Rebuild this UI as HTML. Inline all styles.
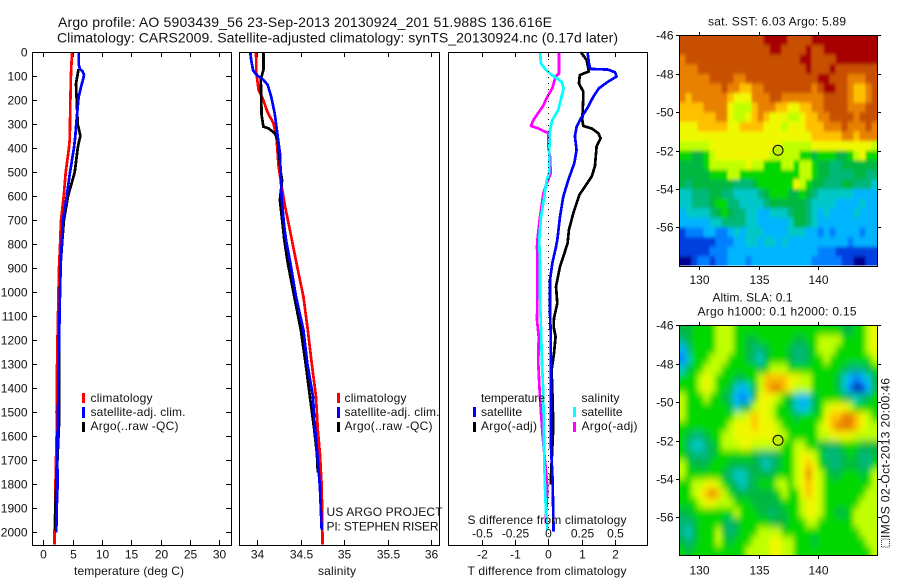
<!DOCTYPE html>
<html lang="en">
<head>
<meta charset="utf-8">
<title>Argo profile</title>
<style>
html,body{margin:0;padding:0;background:#fff;}
svg{display:block;font-family:"Liberation Sans",sans-serif;font-size:12px;fill:#000;}
text{fill:#111;}
</style>
</head>
<body>
<svg id="chart" xmlns="http://www.w3.org/2000/svg" width="900" height="580" viewBox="0 0 900 580">
  <defs>
    <clipPath id="sst-clip"><rect x="679.5" y="35.5" width="198" height="230"/></clipPath>
    <clipPath id="sla-clip"><rect x="679.5" y="325.5" width="198" height="230"/></clipPath>
    <filter id="sst-blur" filterUnits="userSpaceOnUse" x="650" y="10" width="250" height="280"><feGaussianBlur stdDeviation="1.4 1.8"/></filter>
    <filter id="sla-blur" filterUnits="userSpaceOnUse" x="650" y="300" width="250" height="280"><feGaussianBlur stdDeviation="2.6 3.6"/></filter>
  </defs>
  <rect x="0" y="0" width="900" height="580" fill="#fff"/>
  <text x="58" y="27" font-size="14" textLength="494">Argo profile: AO 5903439_56 23-Sep-2013 20130924_201 51.988S 136.616E</text>
  <text x="57" y="42.5" font-size="14" textLength="561">Climatology: CARS2009. Satellite-adjusted climatology: synTS_20130924.nc (0.17d later)</text>

  <g clip-path="url(#sst-clip)">
    <g id="sst-cells" filter="url(#sst-blur)"></g>
  </g>
  <g clip-path="url(#sla-clip)">
    <g id="sla-cells" filter="url(#sla-blur)"></g>
  </g>

  <g id="lines"></g>
  <g id="axes"></g>

  <line x1="548.5" y1="53" x2="548.5" y2="545" stroke="#000" stroke-width="1" stroke-dasharray="1 5"/>

  <g>
    <rect x="82" y="393" width="3" height="10" fill="#f00"/>
    <rect x="82" y="407" width="3" height="11" fill="#00f"/>
    <rect x="82" y="422" width="3" height="10" fill="#000"/>
    <text x="90.5" y="402" textLength="62">climatology</text>
    <text x="90.5" y="416" textLength="95">satellite-adj. clim.</text>
    <text x="90.5" y="430" textLength="88">Argo(..raw -QC)</text>
  </g>
  <g>
    <rect x="337" y="393" width="3" height="10" fill="#f00"/>
    <rect x="337" y="407" width="3" height="11" fill="#00f"/>
    <rect x="337" y="422" width="3" height="10" fill="#000"/>
    <text x="344.5" y="402" textLength="62">climatology</text>
    <text x="344.5" y="416" textLength="95">satellite-adj. clim.</text>
    <text x="344.5" y="430" textLength="88">Argo(..raw -QC)</text>
  </g>
  <text x="326.5" y="516" textLength="116">US ARGO PROJECT</text>
  <text x="326.5" y="530.5" textLength="112">PI: STEPHEN RISER</text>

  <g>
    <text x="481" y="402" textLength="64">temperature</text>
    <text x="581.5" y="402" textLength="38">salinity</text>
    <rect x="473" y="407" width="3" height="10" fill="#00f"/>
    <rect x="473" y="422" width="3" height="10" fill="#000"/>
    <rect x="573" y="407" width="3" height="10" fill="#0ff"/>
    <rect x="573" y="422" width="3" height="10" fill="#f0f"/>
    <text x="481" y="416" textLength="41">satellite</text>
    <text x="481" y="430" textLength="56">Argo(-adj)</text>
    <text x="581.5" y="416" textLength="41">satellite</text>
    <text x="581.5" y="430" textLength="56">Argo(-adj)</text>
  </g>

  <text x="467.5" y="524" textLength="159">S difference from climatology</text>
  <text x="74" y="575" textLength="110">temperature (deg C)</text>
  <text x="318" y="575" textLength="38">salinity</text>
  <text x="467.5" y="575" textLength="159">T difference from climatology</text>

  <text x="708" y="25.5" textLength="138">sat. SST: 6.03 Argo: 5.89</text>
  <text x="712.5" y="301.5" textLength="80">Altim. SLA: 0.1</text>
  <text x="697.5" y="315.5" textLength="159">Argo h1000: 0.1 h2000: 0.15</text>

  <rect x="881.5" y="539" width="8" height="8" fill="none" stroke="#333" stroke-width="1" stroke-dasharray="1 1"/>
  <text transform="translate(889.5 538) rotate(-90)" textLength="160">IMOS 02-Oct-2013 20:00:46</text>
</svg>

<script>
// ---------- profile axes data ----------
const tempTicks = [0,5,10,15,20,25,30];
const salTicks = [34,34.5,35,35.5,36];
const salTickLabels = ['34','34.5','35','35.5','36'];
const depthTicks = [0,100,200,300,400,500,600,700,800,900,1000,1100,1200,1300,1400,1500,1600,1700,1800,1900,2000];
const tDiffTicks = [-2,-1,0,1,2];
const sDiffTicks = [-0.5,-0.25,0,0.25,0.5];
const sDiffTickLabels = ['-0.5','-0.25','0','0.25','0.5'];
const lonTicks = [130,135,140];
const latTicks = [-46,-48,-50,-52,-54,-56];

// temperature profiles (deg C)
const climTempDepth = [0,100,200,300,360,400,500,600,700,800,900,1000,1100,1200,1300,1400,1500,1600,1700,1800,1900,2000,2050];
const climTempValue = [4.88,4.7,4.6,4.54,4.5,4.35,3.8,3.46,3.0,2.85,2.66,2.58,2.5,2.41,2.33,2.27,2.25,2.25,2.15,2.07,2.03,1.9,1.9];
const satTempDepth = [0,50,70,80,95,110,140,180,200,300,350,400,500,600,700,850,1000,1200,1400,1500,1600,1700,1800,1900,2000];
const satTempValue = [6.0,6.0,6.25,6.7,6.93,6.8,6.47,6.07,5.96,5.6,5.45,5.2,4.54,3.97,3.35,3.0,2.83,2.68,2.55,2.5,2.4,2.38,2.42,2.27,2.2];
const argoTempDepth = [70,100,130,200,300,340,350,380,400,500,600,700,800,900,1000,1200,1400,1500,1550,1900,1990];
const argoTempValue = [6.0,5.79,5.56,5.68,5.85,6.25,6.3,6.0,5.85,5.34,4.2,3.5,3.17,2.9,2.83,2.66,2.66,2.7,2.66,2.03,2.03];

// salinity profiles
const climSalDepth = [0,87,157,199,247,296,351,476,560,643,740,879,1018,1157,1296,1435,1574,1671,1810,2050];
const climSalValue = [33.985,33.99,34.015,34.07,34.115,34.185,34.22,34.245,34.28,34.32,34.375,34.45,34.53,34.58,34.625,34.675,34.695,34.72,34.74,34.75];
const satSalDepth = [0,32,74,94,115,136,185,254,337,420,615,726,782,879,1018,1157,1296,1435,1532,1671,1810,1990];
const satSalValue = [33.92,33.93,33.95,33.99,34.07,34.12,34.16,34.2,34.23,34.26,34.28,34.31,34.33,34.38,34.445,34.53,34.575,34.64,34.655,34.69,34.72,34.74];
const argoSalDepth = [0,74,87,115,261,310,317,337,365,500,532,615,712,782,879,1018,1157,1296,1435,1574,1671,1750];
const argoSalValue = [34.07,34.07,34.06,34.04,34.05,34.07,34.13,34.2,34.235,34.27,34.285,34.26,34.29,34.31,34.35,34.425,34.5,34.555,34.605,34.655,34.685,34.695];

// difference profiles
const satTDiffDepth = [0,46,69,72,83,101,122,150,185,226,282,310,351,407,462,532,601,685,782,810,879,948,1087,1157,1296,1393,1643,1782,1997];
const satTDiffValue = [1.18,1.22,1.26,1.79,2.0,2.05,1.8,1.52,1.35,1.2,0.95,0.85,0.8,0.85,0.78,0.6,0.45,0.35,0.27,0.23,0.12,0.05,0.05,0.07,0.08,0.08,0.08,0.13,0.16];
const argoTDiffDepth = [0,32,80,94,129,164,185,282,307,317,337,358,393,476,518,560,594,671,740,796,851,892,976,1046,1108,1143,1185,1254,1324,1407,1560,1800];
const argoTDiffValue = [0.98,1.15,1.22,0.95,0.92,1.05,1.05,1.02,1.05,1.3,1.5,1.57,1.45,1.4,1.3,1.1,0.93,0.75,0.62,0.58,0.45,0.35,0.23,0.27,0.17,0.16,0.22,0.17,0.1,0.12,0.15,0.07];
const satSDiffDepth = [0,46,69,94,122,150,199,240,282,324,393,504,532,601,685,782,879,1018,1157,1296,1393,1504,1712,1810,1921,1990];
const satSDiffValue = [-0.062,-0.055,-0.025,0.025,0.1,0.115,0.093,0.075,0.03,0.013,0.008,0.006,-0.012,-0.03,-0.055,-0.068,-0.062,-0.062,-0.055,-0.047,-0.04,-0.035,-0.03,-0.025,-0.017,-0.007];
const argoSDiffDepth = [0,87,101,150,178,226,282,307,317,337,393,435,504,546,587,685,782,810,879,1018,1115,1185,1296,1393,1504,1601,1810,1963];
const argoSDiffValue = [0.08,0.08,0.055,0.03,0,-0.042,-0.112,-0.13,-0.075,0,0,0.013,0.018,-0.012,-0.037,-0.062,-0.082,-0.085,-0.08,-0.082,-0.085,-0.072,-0.075,-0.067,-0.055,-0.042,-0.007,-0.02];

// map marker position
const profileLon = 136.616;
const profileLat = -51.988;

// colour levels for the maps
const mapPalette = ['#000090','#0040e0','#0080ff','#00b4ff','#00c8c8','#00b878','#00b840','#00d800','#c0ff00','#f0f800','#ffc000','#e88000','#c85000','#a80000'];

// SST heatmap levels, one row per half degree of latitude
const sstLevels = [
[12,12,12,12,12,12,12,12,12,12,12,12,12,12,13,13,13,13,12,12,12,12,13,13,13,13,13,13,13,13,13,13,13],
[12,12,12,12,12,12,12,12,12,12,12,12,12,12,12,13,13,12,12,12,12,13,12,12,13,13,13,13,13,13,13,13,13],
[11,12,12,12,12,12,12,12,12,12,12,12,12,12,12,12,12,12,12,12,13,13,12,12,12,12,13,13,13,13,13,13,13],
[11,11,11,12,12,12,12,12,12,12,12,12,12,12,12,12,12,12,12,12,12,13,12,12,12,13,12,12,12,12,12,12,12],
[11,11,11,11,11,12,12,12,12,11,11,12,12,12,12,12,12,12,12,12,12,12,12,13,13,12,12,12,11,11,11,12,12],
[11,11,11,11,11,11,11,12,11,11,10,10,11,11,12,12,12,12,12,12,12,12,11,12,13,13,12,12,11,10,10,11,12],
[11,10,11,11,11,11,11,11,10,9,9,9,11,11,11,12,12,11,11,11,11,11,11,11,12,12,12,12,11,10,10,11,12],
[10,10,10,10,11,11,11,11,9,8,8,8,10,11,11,11,10,10,9,9,10,10,11,11,12,12,12,12,11,11,11,12,12],
[10,10,10,10,10,10,11,11,9,8,8,9,10,11,10,9,9,9,8,8,9,10,10,11,11,12,12,12,12,11,12,12,12],
[9,9,9,10,10,10,10,10,9,9,10,10,10,10,9,9,9,8,9,9,9,10,10,10,11,11,11,12,11,11,11,12,11],
[9,9,9,9,9,9,9,9,9,9,9,9,9,9,9,9,9,9,9,9,9,9,10,10,10,10,10,11,11,10,11,11,11],
[8,8,8,8,8,9,9,9,9,9,9,9,9,9,9,9,9,8,8,8,8,8,9,9,9,9,9,9,9,9,9,9,8],
[7,7,6,6,7,8,9,9,9,9,9,9,9,9,9,8,8,8,8,8,7,7,6,7,7,7,6,6,7,8,9,7,7],
[6,6,6,6,7,8,8,8,8,8,8,9,8,8,7,7,7,8,8,7,8,8,7,6,6,5,5,6,6,6,6,6,6],
[6,6,6,6,6,7,7,7,8,8,7,7,7,7,7,7,7,7,7,7,8,8,7,6,6,5,5,5,5,6,6,5,5],
[6,5,6,6,6,6,6,6,6,5,5,5,6,7,7,7,7,7,7,9,8,7,6,6,5,5,5,6,6,5,5,5,4],
[4,4,5,5,5,6,6,5,5,4,4,4,4,5,6,7,7,7,6,6,7,6,5,4,4,4,4,4,4,3,3,3,3],
[4,4,5,5,5,6,7,7,5,5,4,4,4,4,5,6,6,6,6,6,6,5,4,4,4,4,3,3,3,3,4,3,3],
[3,4,4,4,4,5,6,7,6,5,5,4,4,3,3,4,4,4,5,6,6,5,4,3,4,3,3,3,3,4,3,3,3],
[3,3,3,3,3,4,4,5,5,5,5,4,4,3,3,3,3,3,4,6,6,5,4,3,3,3,3,3,3,3,3,3,3],
[1,2,2,2,3,3,2,2,3,4,3,4,4,4,3,3,3,3,4,4,4,3,3,2,3,2,3,3,3,3,2,3,3],
[1,1,1,1,1,1,2,2,2,3,3,4,4,3,4,4,3,4,3,3,3,3,3,3,3,3,3,3,2,3,3,3,3],
[1,1,1,1,1,2,2,2,3,3,3,3,3,3,3,3,3,3,3,3,3,3,3,2,2,2,1,1,1,1,1,1,1],
[0,0,1,2,2,1,2,2,3,3,3,2,3,3,3,3,3,3,3,3,3,3,2,2,2,2,2,1,1,0,0,1,1]
];

// SLA heatmap levels, one row per half degree of latitude
const slaLevels = [
[6,6,7,7,7,7,8,8,8,7,7,7,7,7,7,7,7,7,7,7,7,7,7,7,7,7,7,6,6,7,7,8,9],
[5,6,7,7,7,7,8,8,8,7,7,6,6,7,7,7,7,7,7,6,6,7,7,8,8,8,8,7,7,7,7,8,9],
[3,5,7,7,7,7,8,8,8,7,7,6,5,5,6,7,7,7,6,5,5,6,7,8,8,8,7,7,7,7,7,8,9],
[2,4,7,7,7,8,8,8,7,7,7,6,5,4,6,7,7,7,6,5,5,6,7,7,8,7,7,7,7,7,7,7,8],
[4,6,7,7,8,8,8,7,7,7,7,7,7,6,7,8,8,8,7,7,7,7,7,7,7,7,7,6,5,5,5,6,7],
[7,7,7,8,9,8,7,7,7,6,6,7,7,8,10,10,10,10,9,9,8,8,7,7,7,7,6,4,3,2,3,4,6],
[7,7,7,8,9,8,7,7,6,4,3,4,6,8,10,11,11,10,9,8,8,8,7,7,7,7,6,4,2,0,1,3,6],
[8,7,7,7,8,7,7,6,5,3,2,3,6,9,9,9,8,7,6,4,3,4,6,7,7,7,7,6,5,4,5,6,7],
[8,7,7,7,7,7,7,7,6,4,5,6,8,9,9,8,7,7,6,4,3,4,6,7,8,9,9,9,8,7,7,7,7],
[8,7,7,7,7,7,7,7,7,8,8,9,10,9,9,8,7,7,7,6,7,7,7,7,9,10,10,11,11,10,9,8,7],
[7,7,7,7,7,7,7,7,8,9,9,9,10,9,9,9,8,7,7,7,7,7,7,8,9,10,11,11,11,10,9,8,8],
[7,6,5,5,6,7,7,8,8,9,9,9,9,9,9,9,8,8,7,7,7,7,7,8,8,9,9,9,9,8,8,8,8],
[7,5,4,4,5,6,7,8,8,8,9,9,8,8,8,8,8,7,7,8,8,7,7,6,6,5,6,7,7,7,6,6,6],
[7,6,5,5,5,6,7,7,7,7,7,7,6,5,5,5,6,7,7,8,9,9,8,7,5,5,5,6,7,6,5,5,6],
[8,7,6,6,6,7,7,7,6,6,6,6,6,5,4,5,6,7,7,8,9,10,9,7,6,5,5,6,6,6,5,5,7],
[8,7,7,7,7,7,7,6,5,4,4,5,6,6,6,6,7,7,7,8,9,11,9,8,7,6,6,7,7,7,6,7,8],
[7,7,8,8,9,9,8,7,6,5,4,5,6,7,7,7,8,8,7,8,9,10,9,8,7,7,7,7,7,7,7,7,8],
[7,7,8,9,10,11,10,8,7,6,6,6,6,6,6,6,7,8,7,7,9,10,9,8,7,7,7,7,7,7,7,8,8],
[7,7,7,8,9,9,8,8,8,7,7,7,6,6,6,6,6,7,7,7,8,9,9,8,7,7,7,7,7,7,8,8,8],
[6,6,7,7,7,7,7,7,7,8,7,7,7,6,6,5,6,6,7,7,8,9,9,8,7,7,6,6,7,8,8,8,8],
[5,5,6,7,7,7,7,6,5,6,7,7,7,7,7,6,6,6,7,7,7,8,8,7,7,7,7,7,7,8,8,8,8],
[5,4,6,7,7,7,8,6,5,6,7,7,7,8,8,8,8,7,7,7,7,7,7,7,7,7,7,7,7,7,8,8,8],
[6,5,6,7,7,7,8,7,6,7,7,7,8,8,8,9,9,8,8,7,7,7,6,7,7,7,7,7,7,7,7,8,8],
[7,6,7,7,7,7,7,7,7,7,7,8,8,8,8,9,9,8,8,7,7,7,7,7,7,7,7,7,7,7,7,7,8]
];

// ---------- scales ----------
const NS = 'http://www.w3.org/2000/svg';
const depthY = d => 52.3 + 0.24 * d;
const tempX = v => 43.4 + 5.86 * v;
const salX = v => 257.3 + 87 * (v - 34);
const tDiffX = v => 548.3 + 33.3 * v;
const sDiffX = v => 548.3 + 133.3 * v;
const lonX = v => 699.3 + 11.9 * (v - 130);
const sstLatY = v => 35.3 + 19.2 * (-46 - v);
const slaLatY = v => 325.3 + 19.2 * (-46 - v);

const linesGroup = document.getElementById('lines');
const axesGroup = document.getElementById('axes');

function make(tag, attrs, parent) {
  const el = document.createElementNS(NS, tag);
  for (const k in attrs) el.setAttribute(k, attrs[k]);
  parent.appendChild(el);
  return el;
}

function drawProfile(depths, values, xFn, color) {
  const pts = depths.map((d, i) => xFn(values[i]).toFixed(1) + ',' + depthY(d).toFixed(1)).join(' ');
  const el = make('polyline', {points: pts, fill: 'none', stroke: color, 'stroke-width': 2.7, 'stroke-linejoin': 'round', 'shape-rendering': 'crispEdges'}, linesGroup);
  
  
  return el;
}

function drawFrame(x0, y0, x1, y1) {
  const el = make('rect', {x: x0 + 0.5, y: y0 + 0.5, width: x1 - x0, height: y1 - y0, fill: 'none', stroke: '#000', 'stroke-width': 1, 'shape-rendering': 'crispEdges'}, axesGroup);
  
  
}

function drawTick(x1, y1, x2, y2) {
  const el = make('line', {x1: x1, y1: y1, x2: x2, y2: y2, stroke: '#000', 'stroke-width': 1, 'shape-rendering': 'crispEdges'}, axesGroup);
  
  
}

function drawLabel(x, y, str, anchor) {
  const el = make('text', {x: x, y: y, 'text-anchor': anchor}, axesGroup);
  el.textContent = str;
  
  
}

function drawProfileXAxis(ticks, labels, xFn, baseline, top, bottom) {
  ticks.forEach((t, i) => {
    const x = Math.round(xFn(t)) + 0.5;
    if (top !== null) {
      drawTick(x, top, x, top + 5);
      drawTick(x, bottom, x, bottom - 5);
    }
    drawLabel(x, baseline, labels[i], 'middle');
  });
}

function drawHeatmap(levels, parentId, top) {
  const parent = document.getElementById(parentId);
  const nRows = levels.length;
  const nCols = levels[0].length;
  const cellW = 198 / nCols;
  const cellH = 230.4 / nRows;
  const pad = 14;
  levels.forEach((row, r) => {
    row.forEach((v, c) => {
      let x = 679.5 + c * cellW, y = top + r * cellH, w = cellW + 0.4, h = cellH + 0.4;
      if (c === 0) { x -= pad; w += pad; }
      if (c === nCols - 1) { w += pad; }
      if (r === 0) { y -= pad; h += pad; }
      if (r === nRows - 1) { h += pad; }
      const el = make('rect', {x: x, y: y, width: w, height: h, fill: mapPalette[v]}, parent);
      
      
    });
  });
}

function drawMapAxes(frameTop, frameBottom, latFn, labelBaseline) {
  drawFrame(679, frameTop, 877, frameBottom);
  lonTicks.forEach(lon => {
    const x = Math.round(lonX(lon)) + 0.5;
    drawTick(x, frameTop - 3, x, frameTop);
    drawTick(x, frameBottom + 1, x, frameBottom + 4);
    drawLabel(x, labelBaseline, String(lon), 'middle');
  });
  latTicks.forEach(lat => {
    const y = Math.round(latFn(lat)) + 0.5;
    drawTick(676, y, 679, y);
    drawTick(878, y, 881, y);
    drawLabel(673.5, y + 4, String(lat), 'end');
  });
}

function drawMarker(latFn) {
  const el = make('circle', {cx: lonX(profileLon), cy: latFn(profileLat), r: 5, fill: '#c0f000', stroke: '#000', 'stroke-width': 1}, axesGroup);
  
  
}

// ---------- draw ----------
drawHeatmap(sstLevels, 'sst-cells', 35.5);
drawHeatmap(slaLevels, 'sla-cells', 325.5);

drawProfile(climTempDepth, climTempValue, tempX, '#f00');
drawProfile(argoTempDepth, argoTempValue, tempX, '#000');
drawProfile(satTempDepth, satTempValue, tempX, '#00f');

drawProfile(climSalDepth, climSalValue, salX, '#f00');
drawProfile(argoSalDepth, argoSalValue, salX, '#000');
drawProfile(satSalDepth, satSalValue, salX, '#00f');

drawProfile(argoTDiffDepth, argoTDiffValue, tDiffX, '#000');
drawProfile(satTDiffDepth, satTDiffValue, tDiffX, '#00f');
drawProfile(argoSDiffDepth, argoSDiffValue, sDiffX, '#f0f');
drawProfile(satSDiffDepth, satSDiffValue, sDiffX, '#0ff');

drawFrame(32, 52, 231, 545);
drawFrame(239, 52, 439, 545);
drawFrame(448, 52, 647, 545);

drawProfileXAxis(tempTicks, tempTicks.map(String), tempX, 558.5, 52, 545);
drawProfileXAxis(salTicks, salTickLabels, salX, 558.5, 52, 545);
drawProfileXAxis(tDiffTicks, tDiffTicks.map(String), tDiffX, 558.5, 52, 545);
drawProfileXAxis(sDiffTicks, sDiffTickLabels, sDiffX, 537.5, null, null);

depthTicks.forEach(d => {
  const y = Math.round(depthY(d)) + 0.5;
  drawTick(32, y, 37, y);
  drawTick(231, y, 226, y);
  drawLabel(27.5, y + 4, String(d), 'end');
});

drawMapAxes(35, 266, sstLatY, 284);
drawMapAxes(325, 555, slaLatY, 574.5);
drawMarker(sstLatY);
drawMarker(slaLatY);
</script>
</body>
</html>
